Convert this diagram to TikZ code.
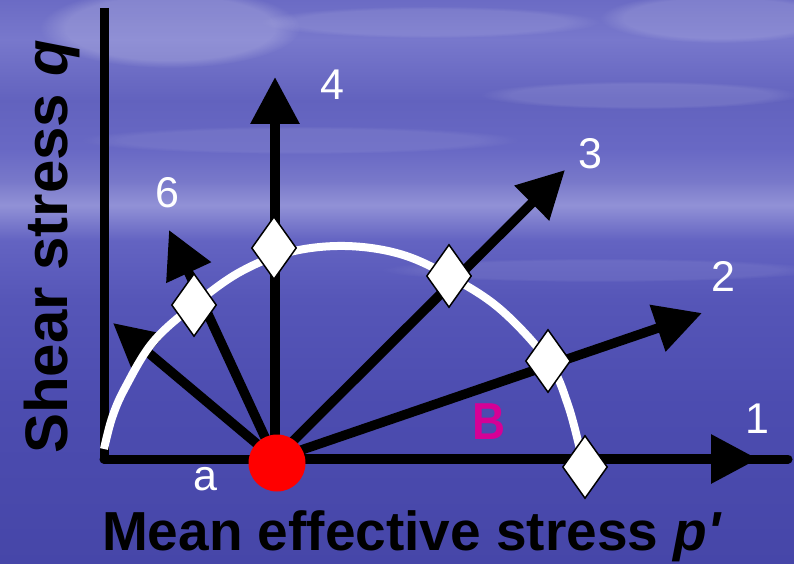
\documentclass[tikz,border=0pt]{standalone}
\usepackage{fontspec}
\usetikzlibrary{arrows.meta,shapes.geometric,fadings}
\newfontfamily\af{Liberation Sans}
\definecolor{magB}{RGB}{214,0,150}
\pgfdeclareverticalshading{skybg}{100bp}{%
 rgb(0bp)=(0.275,0.275,0.66);
 rgb(25bp)=(0.275,0.275,0.66);
 rgb(39.5bp)=(0.30,0.30,0.69);
 rgb(48.4bp)=(0.337,0.337,0.72);
 rgb(53.7bp)=(0.39,0.39,0.76);
 rgb(56.8bp)=(0.57,0.57,0.84);
 rgb(59bp)=(0.47,0.47,0.79);
 rgb(61.7bp)=(0.41,0.41,0.77);
 rgb(66.1bp)=(0.385,0.385,0.745);
 rgb(71.5bp)=(0.47,0.47,0.80);
 rgb(75bp)=(0.42,0.42,0.77);
 rgb(100bp)=(0.42,0.42,0.77)}
\tikzset{
  arr/.style={line width=9.5pt, draw=black, -{Triangle[length=47pt,width=47pt]}},
  axisline/.style={line width=9pt, draw=black},
  dia/.style={diamond, draw=black, line width=1.5pt, fill=white, inner sep=0pt, minimum width=45pt, minimum height=63pt},
  numlab/.style={text=white, inner sep=0pt, font=\af\fontsize{43}{43}\selectfont},
  cloud/.style={white, path fading=circle with fuzzy edge 20 percent}
}
\begin{document}
\begin{tikzpicture}[x=1pt,y=-1pt]
\useasboundingbox (0,0) rectangle (794,564);
% background
\shade[shading=skybg] (0,0) rectangle (794,564);
\fill[cloud, opacity=0.18] (170,28) ellipse (130 and 40);
\fill[cloud, opacity=0.14] (720,18) ellipse (120 and 25);
\fill[cloud, opacity=0.10] (430,22) ellipse (170 and 16);
\fill[cloud, opacity=0.10] (640,95) ellipse (160 and 14);
\fill[cloud, opacity=0.08] (300,140) ellipse (220 and 14);
\fill[cloud, opacity=0.08] (600,270) ellipse (220 and 12);
% axes
\coordinate (ytop) at (104,8);
\coordinate (corner) at (104,459);
\coordinate (xend) at (788,459);
\draw[axisline] (ytop) -- (corner);
\draw[axisline, line cap=round] (corner) -- (xend);
% arrows from origin
\coordinate (o) at (275,459);
\coordinate (t1) at (758,459);
\coordinate (t2) at (702,313);
\coordinate (t3) at (565,170);
\coordinate (t4) at (275,77);
\coordinate (t5) at (113,323);
\coordinate (t6) at (169,230);
\foreach \t in {t1,t2,t3,t4,t5,t6} \draw[arr] (o) -- (\t);
% white arc
\draw[white, line width=8pt] plot[smooth, tension=0.6] coordinates {(104,449) (112,418) (125,388) (153,342) (194,305) (240,272) (290,252) (345,246) (400,254) (449,276) (500,309) (548,361) (568,405) (582,458)};
% diamonds
\node[dia] (d1) at (585,467) {};
\node[dia] (d2) at (548,361) {};
\node[dia] (d3) at (449,276) {};
\node[dia] (d4) at (274,248) {};
\node[dia] (d6) at (194,305) {};
% red dot
\node[circle, fill=red, minimum size=57pt, inner sep=0pt] (dot) at (277,463) {};
% labels
\node[numlab] (l1) at (757,419) {1};
\node[numlab] (l2) at (723,276) {2};
\node[numlab] (l3) at (590,154) {3};
\node[numlab] (l4) at (332,85) {4};
\node[numlab] (l6) at (167,193) {6};
\node[numlab, anchor=base] (la) at (205,490) {a};
\node[text=magB, inner sep=0pt, font=\af\bfseries\fontsize{52}{52}\selectfont, xscale=0.88] (lB) at (489,422) {B};
\node[inner sep=0pt, anchor=base, font=\af\bfseries\fontsize{55}{55}\selectfont] (xl) at (412,550) {Mean effective stress \textit{p'}};
\node[inner sep=0pt, anchor=base, rotate=90, font=\af\bfseries\fontsize{60}{60}\selectfont] (yl) at (67,247) {Shear stress \textit{q}};
\end{tikzpicture}
\end{document}
